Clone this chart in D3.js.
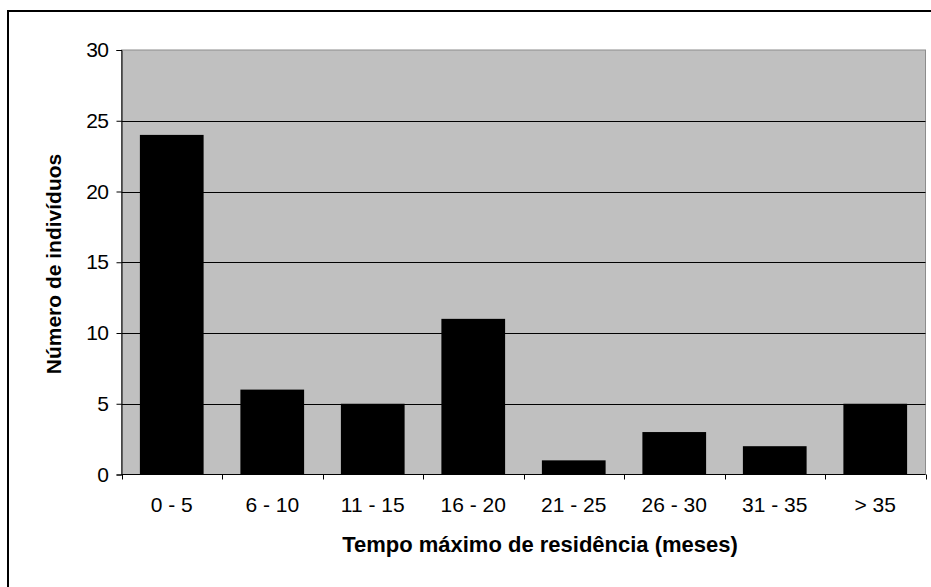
<!DOCTYPE html>
<html><head><meta charset="utf-8">
<script src="https://cdn.jsdelivr.net/npm/d3@7"></script>
<style>body{margin:0;background:#fff;} svg{display:block;font-family:"Liberation Sans",Arial,sans-serif;}</style>
</head><body>
<svg id="c" width="931" height="587"></svg>
<script>
const categories = ["0 - 5","6 - 10","11 - 15","16 - 20","21 - 25","26 - 30","31 - 35","> 35"];
const values = [24, 6, 5, 11, 1, 3, 2, 5];
const yTicks = [0, 5, 10, 15, 20, 25, 30];
const xTitle = "Tempo máximo de residência (meses)";
const yTitle = "Número de indivíduos";

const svg = d3.select("#c");
const L = 121.5, R = 925.5, T = 50, B = 474.5;

// outer frame
svg.append("rect").attr("x", 8).attr("y", 11).attr("width", 1000).attr("height", 1000)
  .attr("fill", "none").attr("stroke", "#000").attr("stroke-width", 2);

const x = d3.scaleBand().domain(categories).range([L, R]).paddingInner(0.366).paddingOuter(0.183);
const y = d3.scaleLinear().domain([0, 30]).range([B, T]);

svg.append("rect").attr("x", L).attr("y", T).attr("width", R - L).attr("height", B - T)
  .attr("fill", "#c0c0c0").attr("stroke", "#8c8c8c").attr("stroke-width", 1);

// gridlines
svg.append("g").selectAll("line").data(yTicks.filter(d => d > 0 && d < 30)).join("line")
  .attr("x1", L).attr("x2", R).attr("y1", d => Math.round(y(d)) + 0.5).attr("y2", d => Math.round(y(d)) + 0.5)
  .attr("stroke", "#000").attr("stroke-width", 1);

// bars
svg.append("g").selectAll("rect").data(values).join("rect")
  .attr("x", (d, i) => x(categories[i])).attr("width", x.bandwidth())
  .attr("y", d => y(d)).attr("height", d => B - y(d))
  .attr("fill", "#000");

// y axis
const ya = svg.append("g").attr("transform", `translate(${L},0)`)
  .call(d3.axisLeft(y).tickValues(yTicks).tickSize(5).tickPadding(8));
ya.select(".domain").attr("stroke", "#000");
ya.selectAll("text").attr("font-size", 21).attr("fill", "#000").style("letter-spacing", "-0.5px")
  .attr("font-family", "'Liberation Sans',Arial,sans-serif");

// x axis with ticks at band boundaries
const xa = svg.append("g").attr("transform", `translate(0,${B})`);
xa.append("line").attr("x1", L).attr("x2", R).attr("stroke", "#000");
const bounds = d3.range(categories.length + 1).map(i => L + i * (R - L) / categories.length);
xa.selectAll("line.t").data(bounds).join("line").attr("class", "t")
  .attr("x1", d => Math.round(d) + 0.5).attr("x2", d => Math.round(d) + 0.5).attr("y1", 0).attr("y2", 5).attr("stroke", "#000");
xa.selectAll("text").data(categories).join("text")
  .attr("x", d => x(d) + x.bandwidth() / 2).attr("y", 37)
  .attr("text-anchor", "middle").attr("font-size", 21).text(d => d);

svg.append("text").attr("x", 540).attr("y", 552).attr("text-anchor", "middle")
  .attr("font-size", 22).attr("font-weight", "bold").text(xTitle);
svg.append("text").attr("transform", `translate(61,264) rotate(-90)`).attr("text-anchor", "middle")
  .attr("font-size", 21).attr("font-weight", "bold").text(yTitle);
</script>
</body></html>
